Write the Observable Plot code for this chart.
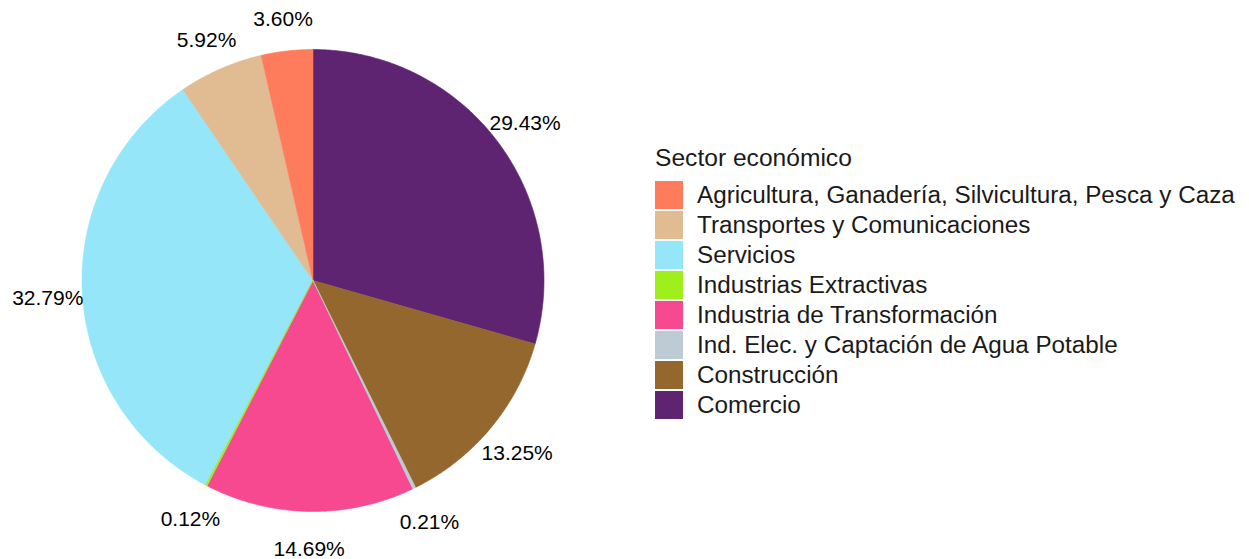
<!DOCTYPE html>
<html>
<head>
<meta charset="utf-8">
<script src="https://cdn.jsdelivr.net/npm/d3@7"></script>
<script src="https://cdn.jsdelivr.net/npm/@observablehq/plot@0.6"></script>
<style>
  html, body { margin: 0; padding: 0; background: #ffffff; }
  #wrap { position: relative; width: 1249px; height: 559px; font-family: "Liberation Sans", Arial, sans-serif; }
  #legend { position: absolute; left: 0; top: 0; }
  .ltitle { position: absolute; left: 655px; font-size: 24.6px; line-height: 1; color: #1a1a1a; white-space: nowrap; }
  .litem { position: absolute; left: 655px; height: 28px; display: flex; align-items: center; white-space: nowrap; }
  .lsw { width: 28px; height: 28px; margin-right: 14px; }
  .ltxt { font-size: 24.25px; line-height: 1; color: #1a1a1a; }
</style>
</head>
<body>
<div id="wrap"><div id="legend"></div></div>
<script>
// Data (legend order)
const sectores = [
  "Agricultura, Ganadería, Silvicultura, Pesca y Caza",
  "Transportes y Comunicaciones",
  "Servicios",
  "Industrias Extractivas",
  "Industria de Transformación",
  "Ind. Elec. y Captación de Agua Potable",
  "Construcción",
  "Comercio"
];
const porcentajes = [3.60, 5.92, 32.79, 0.12, 14.69, 0.21, 13.25, 29.43];
const colores = ["#FE7B5C", "#E1BC92", "#94E6F8", "#9EEF1C", "#F7498F", "#BDCCD4", "#93672D", "#5E2371"];
const etiquetas = ["3.60%", "5.92%", "32.79%", "0.12%", "14.69%", "0.21%", "13.25%", "29.43%"];
const tituloLeyenda = "Sector económico";

// Pie geometry derived from data (clockwise from 12 o'clock, reverse legend order)
const total = d3.sum(porcentajes);
const orden = d3.range(sectores.length).reverse();
let acc = 0;
const slices = [];
const labels = [];
for (const i of orden) {
  const a0 = acc / total * 2 * Math.PI;
  acc += porcentajes[i];
  const a1 = acc / total * 2 * Math.PI;
  const n = Math.max(2, Math.ceil((a1 - a0) / (Math.PI / 360)));
  const pts = [{x: 0, y: 0}];
  for (let k = 0; k <= n; k++) {
    const a = a0 + (a1 - a0) * k / n;
    pts.push({x: Math.sin(a), y: Math.cos(a)});
  }
  pts.push({x: 0, y: 0});
  slices.push({sector: sectores[i], color: colores[i], pts, value: porcentajes[i]});
  const am = (a0 + a1) / 2;
  labels.push({x: 1.15 * Math.sin(am), y: 1.15 * Math.cos(am), text: etiquetas[i]});
}
// draw big slices first, tiny ones last so they stay visible
slices.sort((a, b) => b.value - a.value);

const chart = Plot.plot({
  width: 1249,
  height: 559,
  marginLeft: 81.5,
  marginRight: 705.5,
  marginTop: 49,
  marginBottom: 48,
  style: {fontFamily: "Liberation Sans, Arial, sans-serif", background: "transparent", overflow: "visible"},
  x: {domain: [-1, 1], axis: null},
  y: {domain: [-1, 1], axis: null},
  marks: [
    ...slices.map(s => Plot.line(s.pts, {x: "x", y: "y", fill: s.color, stroke: s.color, strokeWidth: 0.6, curve: "linear"})),
    Plot.text(labels, {x: "x", y: "y", text: "text", fontSize: 21, dy: 3, fill: "#000000"})
  ]
});
document.getElementById("wrap").prepend(chart);

// Legend
const leg = document.getElementById("legend");
const t = document.createElement("div");
t.className = "ltitle";
t.style.top = "146px";
t.textContent = tituloLeyenda;
leg.appendChild(t);
sectores.forEach((s, i) => {
  const row = document.createElement("div");
  row.className = "litem";
  row.style.top = (181 + 30 * i) + "px";
  const sw = document.createElement("div");
  sw.className = "lsw";
  sw.style.background = colores[i];
  const tx = document.createElement("div");
  tx.className = "ltxt";
  tx.textContent = s;
  row.appendChild(sw);
  row.appendChild(tx);
  leg.appendChild(row);
});
</script>
</body>
</html>
